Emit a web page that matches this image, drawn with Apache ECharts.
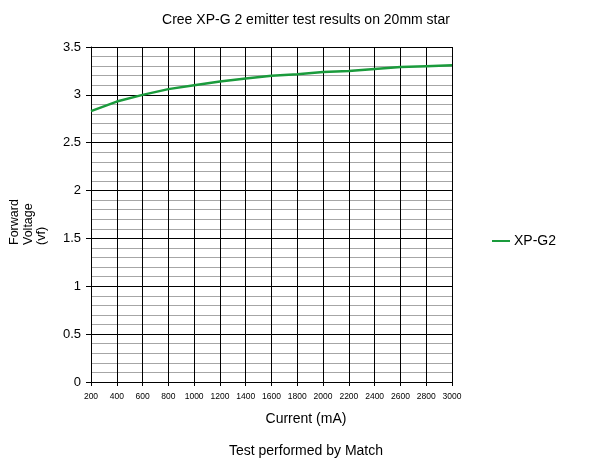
<!DOCTYPE html>
<html><head><meta charset="utf-8">
<script src="https://cdn.jsdelivr.net/npm/echarts@6/dist/echarts.min.js"></script>
<style>html,body{margin:0;padding:0;background:#fff}#c{width:600px;height:463px}</style>
</head><body><div id="c"></div>
<script>
const currents = [200,400,600,800,1000,1200,1400,1600,1800,2000,2200,2400,2600,2800,3000];
const xpg2 = [2.83,2.93,3.00,3.06,3.10,3.14,3.17,3.20,3.215,3.24,3.25,3.27,3.29,3.30,3.31];
const seriesName = 'XP-G2';
const FONT = 'Liberation Sans, Arial, sans-serif';
const chart = echarts.init(document.getElementById('c'));
chart.setOption({
  backgroundColor:'#fff',
  animation:false,
  textStyle:{fontFamily:FONT},
  title:[
    {text:'Cree XP-G 2 emitter test results on 20mm star',left:301,textAlign:'center',top:8,textStyle:{fontFamily:FONT,fontSize:14,fontWeight:'normal',color:'#000'}},
    {text:'Current (mA)',left:301,textAlign:'center',top:407,textStyle:{fontFamily:FONT,fontSize:14,fontWeight:'normal',color:'#000'}},
    {text:'Test performed by Match',left:301,textAlign:'center',top:439,textStyle:{fontFamily:FONT,fontSize:14,fontWeight:'normal',color:'#000'}}
  ],
  graphic:[{type:'text',x:8,y:245,rotation:Math.PI/2,
    style:{text:'Forward\nVoltage\n(vf)',font:'12.5px Liberation Sans, Arial, sans-serif',fill:'#000',align:'left',verticalAlign:'top',lineHeight:13.5}}],
  legend:{orient:'vertical',left:487,top:229,itemWidth:18,itemHeight:10,itemGap:5,icon:'path://M0,4L18,4L18,6L0,6Z',
    textStyle:{fontFamily:FONT,fontSize:14,color:'#000',padding:[0,0,0,-1]},data:[seriesName]},
  grid:{left:91,right:148,top:47,bottom:81,containLabel:false,outerBoundsMode:'none'},
  xAxis:{type:'value',min:200,max:3000,interval:200,
    axisLine:{lineStyle:{color:'#000',width:1}},
    axisTick:{show:true,length:4,lineStyle:{color:'#000'}},
    axisLabel:{fontSize:8.5,color:'#000',margin:10,fontFamily:FONT,formatter:v=>String(v)},
    splitLine:{show:true,lineStyle:{color:'#000',width:1}}},
  yAxis:{type:'value',min:0,max:3.5,interval:0.5,
    axisLine:{show:true,lineStyle:{color:'#000',width:1}},
    axisTick:{show:true,length:5,lineStyle:{color:'#000'}},
    axisLabel:{fontSize:13,color:'#000',margin:10,fontFamily:FONT},
    splitLine:{show:true,lineStyle:{color:'#000',width:1}},
    minorTick:{show:false,splitNumber:5},
    minorSplitLine:{show:true,lineStyle:{color:'#a6a6a6',width:1}}},
  series:[{name:seriesName,type:'line',data:currents.map((c,i)=>[c,xpg2[i]]),
    showSymbol:false,symbol:'none',smooth:false,
    lineStyle:{color:'#1a9b3c',width:2.5},itemStyle:{color:'#1a9b3c'}}]
});
</script></body></html>
